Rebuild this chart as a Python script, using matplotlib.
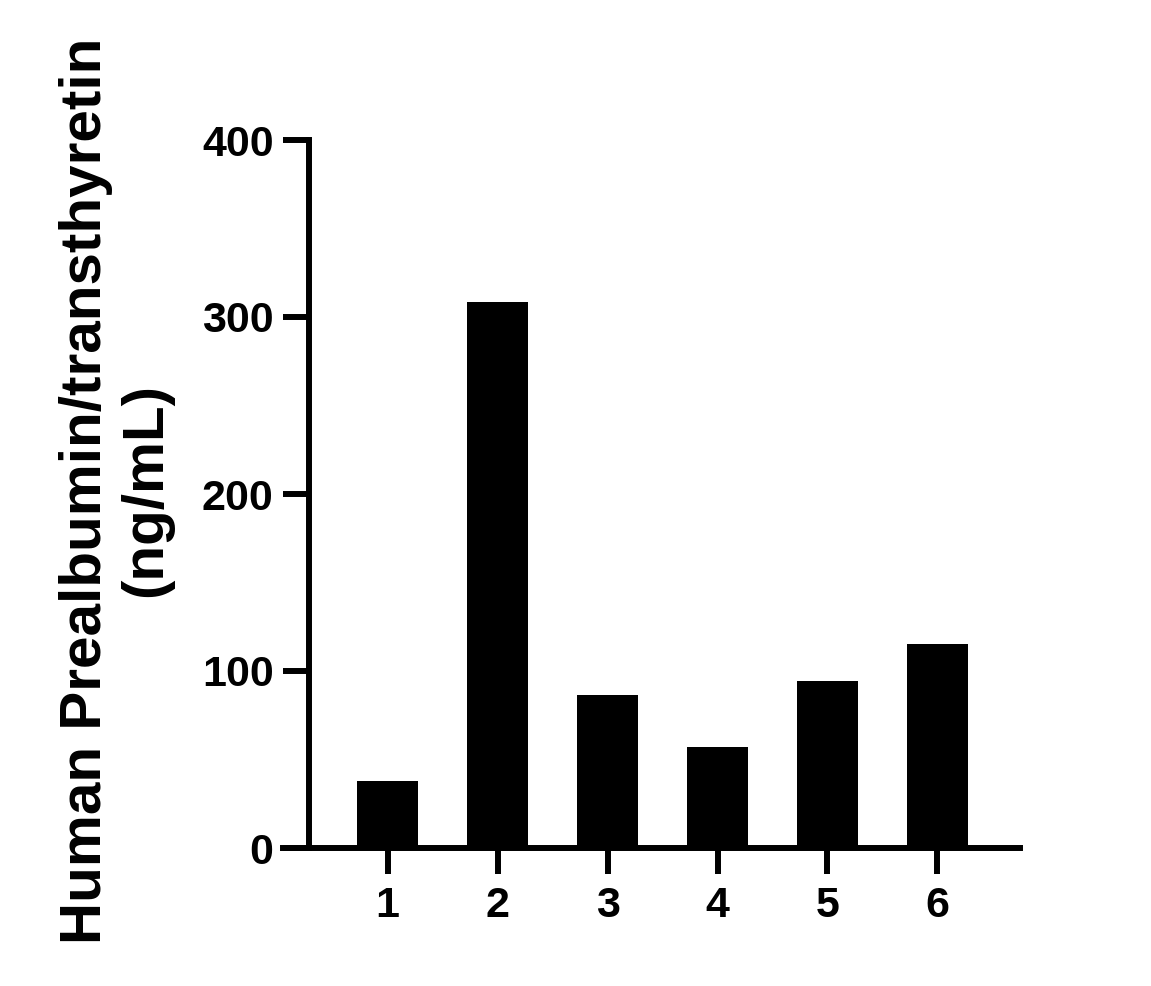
import matplotlib
matplotlib.use('Agg')
import matplotlib.pyplot as plt

plt.rcParams['font.family'] = ['Liberation Sans', 'DejaVu Sans']
plt.rcParams['font.weight'] = 'bold'

# values
samples = ['1', '2', '3', '4', '5', '6']
conc = [38, 308.5, 86.5, 57, 94.5, 115.5]
yticks = [0, 100, 200, 300, 400]

fig = plt.figure(figsize=(11.51, 9.86), dpi=100)
ax = fig.add_axes([283/1151, 1-848/986, (1020-283)/1151, (848-140)/986])

pos = list(range(1, len(samples)+1))
ax.bar(pos, conc, width=0.555, color='black', zorder=1)

ax.set_xlim(0.05, 6.75)
ax.set_ylim(0, 400)
ax.set_xticks(pos)
ax.set_xticklabels(samples)
ax.set_yticks(yticks)

ax.spines['top'].set_visible(False)
ax.spines['right'].set_visible(False)
ax.spines['left'].set_position(('data', 0.2864))
for s in ['left', 'bottom']:
    ax.spines[s].set_linewidth(4.3)
    ax.spines[s].set_zorder(3)

ax.tick_params(axis='both', length=18.5, width=4.3, labelsize=31, pad=7)
ax.tick_params(axis='x', pad=9)
for lab in ax.get_xticklabels() + ax.get_yticklabels():
    lab.set_fontweight('bold')

ax.set_ylabel('Human Prealbumin/transthyretin\n(ng/mL)', fontsize=42,
              fontweight='bold', linespacing=1.15)
ax.yaxis.set_label_coords(-0.2266, 0.505)
ax.yaxis.label.set_verticalalignment('center')

fig.savefig('out.png', dpi=100)
